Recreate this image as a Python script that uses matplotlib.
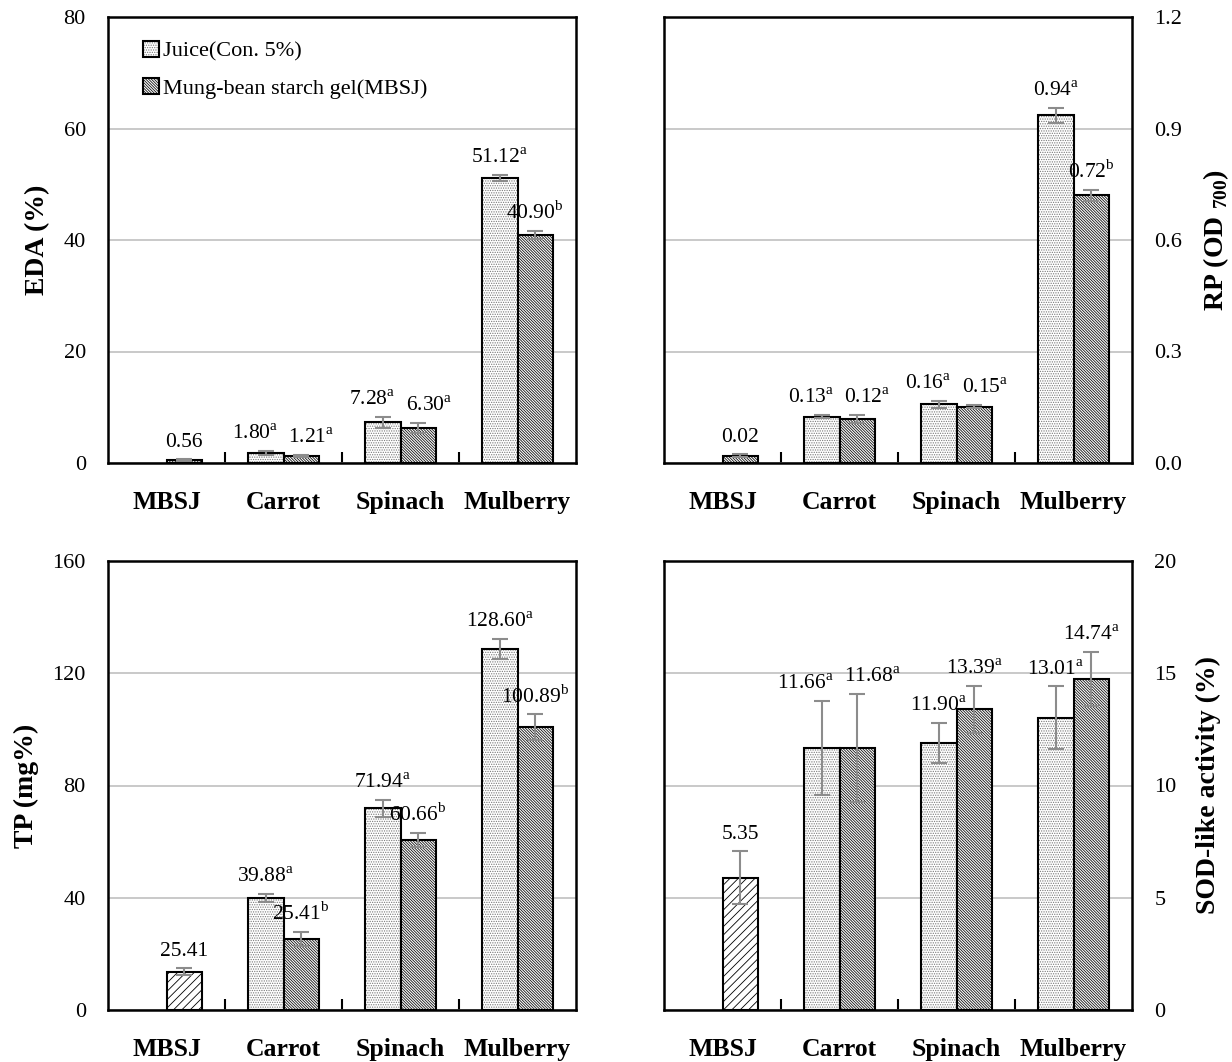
import numpy as np
import matplotlib
matplotlib.use("Agg")
import matplotlib.pyplot as plt
from matplotlib.ticker import FormatStrFormatter
from matplotlib.legend_handler import HandlerTuple

plt.rcParams['font.family'] = ['Liberation Serif', 'DejaVu Serif']
plt.rcParams['mathtext.fontset'] = 'custom'
plt.rcParams['mathtext.rm'] = 'Liberation Serif'
plt.rcParams['mathtext.bf'] = 'Liberation Serif:bold'
plt.rcParams['hatch.linewidth'] = 0.6

categories = ['MBSJ', 'Carrot', 'Spinach', 'Mulberry']

# EDA (%)
eda_juice = [np.nan, 1.80, 7.28, 51.12]
eda_juice_err = [0, 0.35, 1.0, 0.6]
eda_gel = [0.56, 1.21, 6.30, 40.90]
eda_gel_err = [0.15, 0.2, 0.9, 0.7]
eda_juice_lab = ['', '1.80', '7.28', '51.12']
eda_juice_sig = ['', 'a', 'a', 'a']
eda_gel_lab = ['0.56', '1.21', '6.30', '40.90']
eda_gel_sig = ['', 'a', 'a', 'b']

# RP (OD700)
rp_juice = [np.nan, 0.125, 0.158, 0.936]
rp_juice_err = [0, 0.005, 0.01, 0.02]
rp_gel = [0.02, 0.118, 0.152, 0.72]
rp_gel_err = [0.005, 0.01, 0.005, 0.015]
rp_juice_lab = ['', '0.13', '0.16', '0.94']
rp_juice_sig = ['', 'a', 'a', 'a']
rp_gel_lab = ['0.02', '0.12', '0.15', '0.72']
rp_gel_sig = ['', 'a', 'a', 'b']

# TP (mg%)
tp_juice = [np.nan, 39.88, 71.94, 128.60]
tp_juice_err = [0, 1.5, 3.0, 3.5]
tp_gel = [13.6, 25.41, 60.66, 100.89]
tp_gel_err = [1.3, 2.5, 2.5, 4.5]
tp_juice_lab = ['', '39.88', '71.94', '128.60']
tp_juice_sig = ['', 'a', 'a', 'a']
tp_gel_lab = ['25.41', '25.41', '60.66', '100.89']
tp_gel_sig = ['', 'b', 'b', 'b']

# SOD-like activity (%)
sod_juice = [np.nan, 11.66, 11.90, 13.01]
sod_juice_err = [0, 2.1, 0.9, 1.4]
sod_gel = [5.9, 11.68, 13.39, 14.74]
sod_gel_err = [1.2, 2.4, 1.05, 1.2]
sod_juice_lab = ['', '11.66', '11.90', '13.01']
sod_juice_sig = ['', 'a', 'a', 'a']
sod_gel_lab = ['5.35', '11.68', '13.39', '14.74']
sod_gel_sig = ['', 'a', 'a', 'a']

fig = plt.figure(figsize=(12.32, 10.62), dpi=100)
W, H = 1232, 1062


def make_ax(x0, y0, x1, y1):
    return fig.add_axes([x0 / W, 1 - y1 / H, (x1 - x0) / W, (y1 - y0) / H])


def lab(v, s):
    return v + (r'$^{\mathrm{%s}}$' % s if s else '')


def hbar(ax, x, h, w, hatch, hcolor):
    # hatch layer, then black outline on top
    b1 = ax.bar(x, h, w, color='white', edgecolor=hcolor, lw=0, hatch=hatch)
    b2 = ax.bar(x, h, w, fill=False, edgecolor='black', lw=1.5)
    return b1, b2


pairs = []
VFS = 15.5


def panel(ax, juice, jerr, gel, gerr, jl, js, gl, gs, ymax, step, ylabel, right, mbsj_hatch, fmt):
    x = np.arange(len(categories))
    w = 0.3
    ax.set_axisbelow(True)
    hj = hbar(ax, x - w / 2, juice, w, '.' * 7, '#7a7a7a')
    hg = hbar(ax, x[1:] + w / 2, gel[1:], w, '\\' * 12, '#111111')
    if mbsj_hatch == 'dense':
        hbar(ax, x[:1] + w / 2, gel[:1], w, '\\' * 12, '#111111')
    else:
        hbar(ax, x[:1] + w / 2, gel[:1], w, '////', 'black')
    ax.errorbar(x - w / 2, juice, yerr=jerr, fmt='none', ecolor='#8c8c8c', elinewidth=1.5,
                capsize=6, capthick=1.5)
    ax.errorbar(x + w / 2, gel, yerr=gerr, fmt='none', ecolor='#8c8c8c', elinewidth=1.5,
                capsize=6, capthick=1.5)
    for i in range(len(categories)):
        tj = None
        if jl[i]:
            tj = ax.annotate(lab(jl[i], js[i]), (x[i] - w / 2, juice[i] + jerr[i]),
                             xytext=(0, 5), textcoords='offset points', ha='center',
                             va='bottom', fontsize=VFS)
        tg = ax.annotate(lab(gl[i], gs[i]), (x[i] + w / 2, gel[i] + gerr[i]),
                         xytext=(0, 5), textcoords='offset points', ha='center',
                         va='bottom', fontsize=VFS)
        if tj is not None:
            pairs.append((tj, tg))
    ax.set_xlim(-0.5, 3.5)
    ax.set_ylim(0, ymax)
    ax.set_yticks(np.arange(0, ymax + step / 2, step))
    ax.yaxis.set_major_formatter(FormatStrFormatter(fmt))
    ax.yaxis.grid(True, color='#c0c0c0', lw=1.2)
    ax.set_xticks(x)
    ax.set_xticklabels(categories, fontsize=18.5, fontweight='bold')
    ax.set_xticks([0.5, 1.5, 2.5], minor=True)
    ax.tick_params(axis='x', which='major', length=0, pad=20)
    ax.tick_params(axis='x', which='minor', direction='in', length=8, width=1.5)
    ax.tick_params(axis='y', length=0, labelsize=16, pad=16)
    for s in ax.spines.values():
        s.set_linewidth(1.8)
    if right:
        ax.yaxis.tick_right()
        ax.yaxis.set_label_position('right')
        ax.set_ylabel(ylabel, fontsize=20, fontweight='bold', labelpad=14)
    else:
        ax.set_ylabel(ylabel, fontsize=20, fontweight='bold', labelpad=10)
    return hj, hg


ax1 = make_ax(108, 17, 576, 463)
ax2 = make_ax(664, 17, 1132, 463)
ax3 = make_ax(108, 561, 576, 1010)
ax4 = make_ax(664, 561, 1132, 1010)

hj, hg = panel(ax1, eda_juice, eda_juice_err, eda_gel, eda_gel_err, eda_juice_lab, eda_juice_sig,
               eda_gel_lab, eda_gel_sig, 80, 20, 'EDA (%)', False, 'dense', '%d')
panel(ax2, rp_juice, rp_juice_err, rp_gel, rp_gel_err, rp_juice_lab, rp_juice_sig,
      rp_gel_lab, rp_gel_sig, 1.2, 0.3, r'RP (OD $_{\mathbf{700}}$)', True, 'dense', '%.1f')
panel(ax3, tp_juice, tp_juice_err, tp_gel, tp_gel_err, tp_juice_lab, tp_juice_sig,
      tp_gel_lab, tp_gel_sig, 160, 40, 'TP (mg%)', False, 'sparse', '%d')
panel(ax4, sod_juice, sod_juice_err, sod_gel, sod_gel_err, sod_juice_lab, sod_juice_sig,
      sod_gel_lab, sod_gel_sig, 20, 5, 'SOD-like activity (%)', True, 'sparse', '%d')

ax1.legend([(hj[0][0], hj[1][0]), (hg[0][0], hg[1][0])],
           ['Juice(Con. 5%)', 'Mung-bean starch gel(MBSJ)'],
           handler_map={tuple: HandlerTuple(ndivide=1, pad=0)},
           loc='upper left', bbox_to_anchor=(0.075, 0.946), frameon=False, fontsize=16,
           handlelength=0.7, handleheight=0.7, handletextpad=0.2, labelspacing=0.75,
           borderaxespad=0, borderpad=0)

# push apart value labels of the same group if they collide
fig.canvas.draw()
r = fig.canvas.get_renderer()
for tj, tg in pairs:
    bj = tj.get_window_extent(r)
    bg = tg.get_window_extent(r)
    if bj.x1 > bg.x0 - 8 and bj.y0 < bg.y1 and bg.y0 < bj.y1:
        d = (bj.x1 - bg.x0 + 10) / 2 * 0.72
        tj.set_position((-d, 5))
        tg.set_position((d, 5))

fig.savefig('out.png', dpi=100)
